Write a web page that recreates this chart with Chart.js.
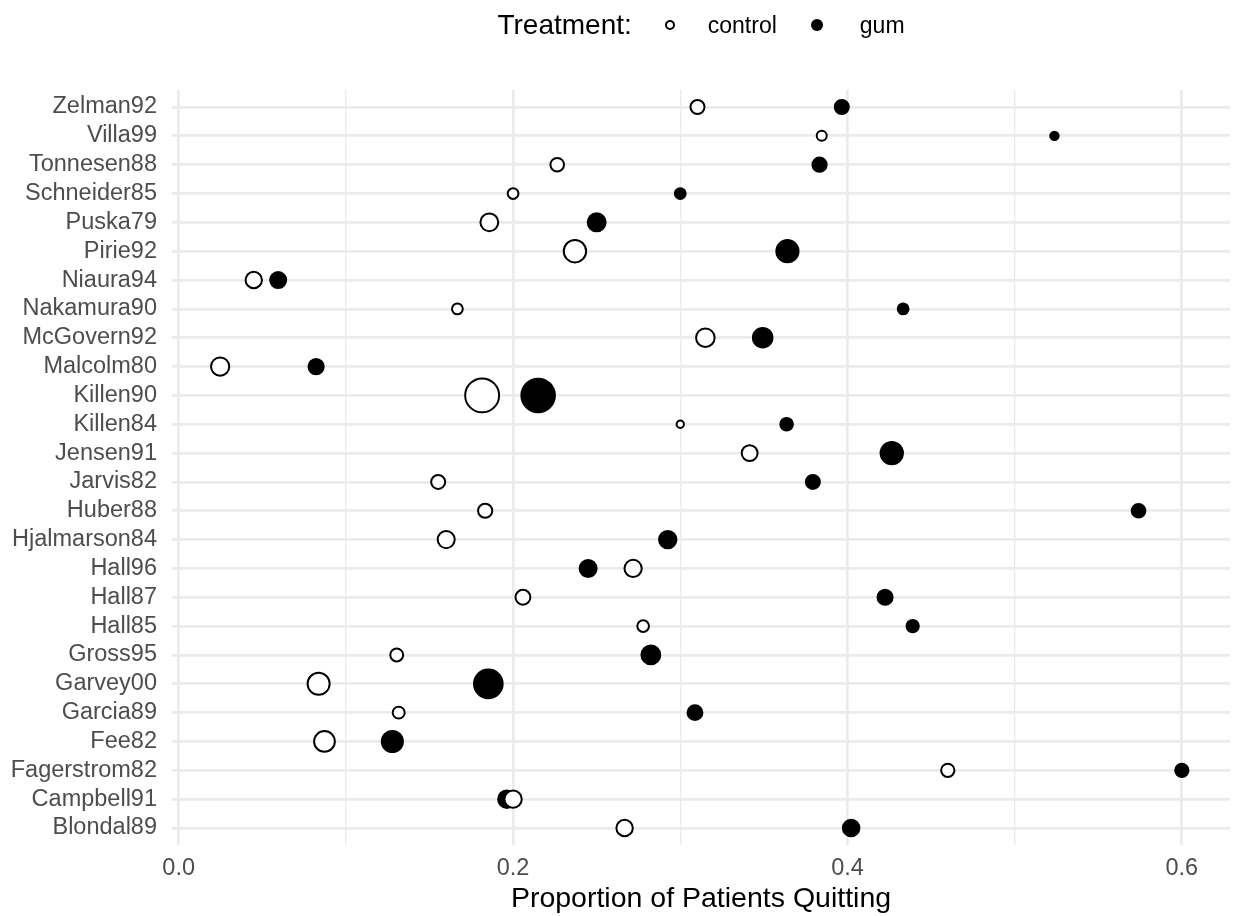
<!DOCTYPE html>
<html>
<head>
<meta charset="utf-8">
<script src="https://cdn.jsdelivr.net/npm/chart.js@4.4.1/dist/chart.umd.min.js"></script>
<style>
    body { margin: 0; background: #fff; }
    #wrap { position: relative; width: 1233px; height: 916px; }
    #legend {
        position: absolute; left: 172px; top: 8px; width: 1058px; height: 34px;
        display: flex; justify-content: center; align-items: center;
        font-family: "Liberation Sans", Arial, sans-serif; color: #000;
    }
    #legend .title { font-size: 28px; margin-right: 33px; }
    #legend .item { font-size: 23px; }
    #legend .mark { box-sizing: border-box; border-radius: 50%; }
    #legend .ctl { width: 10px; height: 10px; border: 2px solid #000; background: #fff; margin-right: 33px; }
    #legend .gum { width: 12px; height: 12px; background: #000; margin-left: 34px; margin-right: 37px; }
</style>
</head>
<body>
<div id="wrap">
    <canvas id="chart" width="1233" height="916"></canvas>
    <div id="legend">
        <span class="title">Treatment:</span>
        <span class="mark ctl"></span><span class="item">control</span>
        <span class="mark gum"></span><span class="item">gum</span>
    </div>
</div>
<script>
// studies, bottom to top
const studies = ['Blondal89', 'Campbell91', 'Fagerstrom82', 'Fee82', 'Garcia89', 'Garvey00', 'Gross95',
    'Hall85', 'Hall87', 'Hall96', 'Hjalmarson84', 'Huber88', 'Jarvis82', 'Jensen91', 'Killen84', 'Killen90',
    'Malcolm80', 'McGovern92', 'Nakamura90', 'Niaura94', 'Pirie92', 'Puska79', 'Schneider85', 'Tonnesen88',
    'Villa99', 'Zelman92'];

// proportion quitting
const controlProp = [0.2667, 0.2000, 0.4600, 0.0872, 0.1316, 0.0837, 0.1304, 0.2778, 0.2059, 0.2718, 0.1600,
    0.1833, 0.1552, 0.3415, 0.3000, 0.1815, 0.0248, 0.3150, 0.1667, 0.0449, 0.2370, 0.1858, 0.2000, 0.2264,
    0.3846, 0.3103];
const gumProp = [0.4022, 0.1963, 0.6000, 0.1278, 0.3088, 0.1852, 0.2824, 0.4390, 0.4225, 0.2449, 0.2925,
    0.5741, 0.3793, 0.4265, 0.3636, 0.2150, 0.0822, 0.3493, 0.4333, 0.0595, 0.3641, 0.2500, 0.3000, 0.3833,
    0.5238, 0.3966];

// number of patients (point size)
const controlN = [90, 105, 50, 172, 38, 203, 46, 36, 68, 103, 100, 60, 58, 82, 20, 617, 121, 127, 30, 89, 211,
    113, 30, 53, 26, 58];
const gumN = [92, 107, 50, 180, 68, 405, 131, 41, 71, 98, 106, 54, 58, 211, 44, 600, 73, 146, 30, 84, 206,
    116, 30, 60, 21, 58];

const xTicks = [0, 0.1, 0.2, 0.3, 0.4, 0.5, 0.6];

const allN = controlN.concat(gumN);
const nMin = Math.min(...allN), nMax = Math.max(...allN);

// area scale, like ggplot's scale_size (range 1..6)
const radius = function (n) {
    let size = 1 + 5 * Math.sqrt((n - nMin) / (nMax - nMin));
    return 2 + 2.66 * size - 1;
};

const points = function (props, ns) {
    return studies.map((s, i) => ({x: props[i], y: i, r: radius(ns[i])}));
};

// don't let big bubbles push the plot area in
Chart.registry.getController('bubble').prototype.getMaxOverflow = function () { return 0; };

const FONT = '"Liberation Sans", Arial, sans-serif';

new Chart(document.getElementById('chart').getContext('2d'), {
    type: 'bubble',
    data: {
        datasets: [
            {
                label: 'control',
                data: points(controlProp, controlN),
                backgroundColor: '#ffffff',
                borderColor: '#000000',
                borderWidth: 2,
                hoverRadius: 0,
            },
            {
                label: 'gum',
                data: points(gumProp, gumN),
                backgroundColor: '#000000',
                borderColor: '#000000',
                borderWidth: 2,
                hoverRadius: 0,
            }
        ]
    },
    options: {
        responsive: false,
        animation: false,
        events: [],
        layout: {padding: {top: 89.7, right: 3, bottom: 0, left: 0}},
        plugins: {
            legend: {display: false},
            tooltip: {enabled: false}
        },
        scales: {
            x: {
                type: 'linear',
                min: -0.004,
                max: 0.6288,
                afterBuildTicks: (scale) => { scale.ticks = xTicks.map(v => ({value: v})); },
                afterFit: (scale) => { scale.height = 70.7; },
                border: {display: false},
                grid: {
                    color: '#EBEBEB',
                    drawTicks: false,
                    lineWidth: (ctx) => (ctx.tick && Math.round(ctx.tick.value * 10) % 2 === 0) ? 2.7 : 1.35
                },
                ticks: {
                    autoSkip: false,
                    maxRotation: 0,
                    padding: 9,
                    color: '#4D4D4D',
                    font: {family: FONT, size: 23.5},
                    callback: (v) => (Math.round(v * 10) % 2 === 0) ? v.toFixed(1) : ''
                },
                title: {
                    display: true,
                    text: 'Proportion of Patients Quitting',
                    color: '#000000',
                    font: {family: FONT, size: 28.5},
                    padding: {top: 0, bottom: 0}
                }
            },
            y: {
                type: 'linear',
                min: -0.6,
                max: 25.6,
                afterBuildTicks: (scale) => { scale.ticks = studies.map((s, i) => ({value: i})); },
                afterFit: (scale) => { scale.width = 172; },
                border: {display: false},
                grid: {color: '#EBEBEB', lineWidth: 2.7, drawTicks: false},
                ticks: {
                    autoSkip: false,
                    padding: 15,
                    color: '#4D4D4D',
                    font: {family: FONT, size: 23.5},
                    callback: (v) => studies[v]
                }
            }
        }
    }
});
</script>
</body>
</html>
